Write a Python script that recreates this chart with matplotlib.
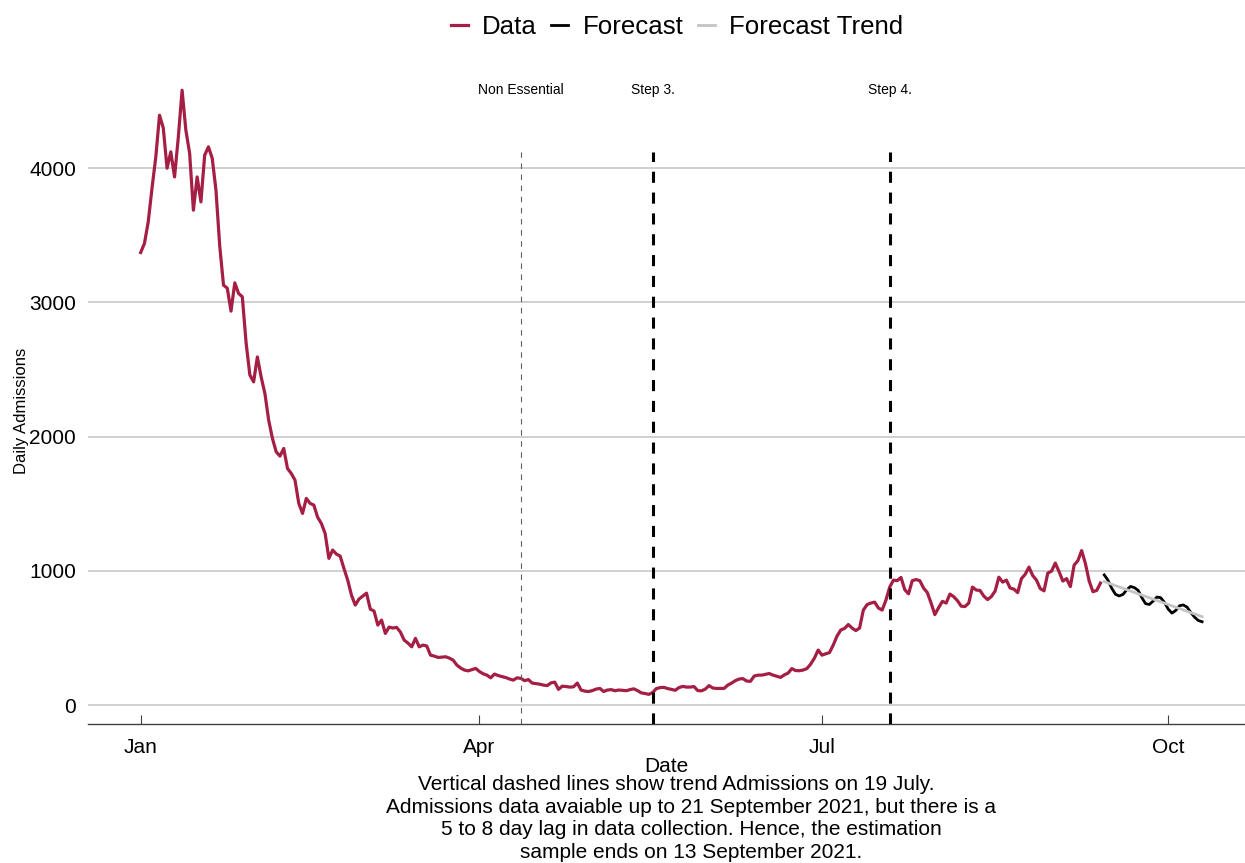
import numpy as np
import matplotlib
matplotlib.use("Agg")
import matplotlib.pyplot as plt
import matplotlib.dates as mdates

plt.rcParams["font.family"] = ["Liberation Sans", "DejaVu Sans"]
plt.rcParams["lines.scale_dashes"] = False

# daily admissions, 1 January 2021 to 13 September 2021
admissions = [
    3372, 3440, 3600, 3850, 4080, 4395, 4300, 4000, 4122, 3935,
    4233, 4581, 4283, 4112, 3687, 3935, 3749, 4097, 4159, 4075,
    3836, 3420, 3129, 3106, 2935, 3146, 3067, 3042, 2700, 2460,
    2408, 2594, 2445, 2322, 2123, 1987, 1887, 1855, 1912, 1763,
    1726, 1676, 1503, 1428, 1540, 1503, 1490, 1400, 1353, 1279,
    1093, 1155, 1125, 1110, 1018, 931, 819, 745, 790, 812,
    834, 715, 700, 596, 633, 534, 581, 574, 579, 544,
    484, 462, 434, 497, 434, 447, 440, 372, 365, 355,
    357, 360, 350, 335, 298, 276, 261, 255, 264, 273,
    250, 233, 223, 203, 231, 220, 212, 205, 194, 186,
    203, 199, 182, 190, 164, 160, 156, 149, 145, 165,
    171, 117, 141, 138, 134, 136, 164, 112, 104, 101,
    108, 119, 124, 101, 112, 115, 107, 112, 110, 107,
    115, 121, 108, 91, 86, 80, 93, 123, 130, 132,
    123, 117, 110, 130, 139, 134, 134, 138, 108, 106,
    119, 145, 127, 124, 124, 124, 149, 164, 182, 194,
    197, 179, 177, 216, 223, 223, 229, 235, 223, 215,
    206, 225, 238, 272, 257, 256, 261, 272, 305, 350,
    410, 372, 382, 391, 447, 514, 559, 571, 600, 574,
    555, 574, 708, 749, 760, 767, 723, 708, 782, 879,
    931, 927, 951, 860, 829, 927, 935, 927, 872, 838,
    760, 674, 726, 773, 760, 827, 808, 778, 737, 734,
    760, 879, 857, 854, 812, 786, 808, 849, 953, 916,
    931, 872, 864, 838, 942, 974, 1028, 965, 931, 868,
    851, 983, 998, 1058, 994, 924, 942, 883, 1043, 1076,
    1151, 1054, 924, 845, 854, 909,
]

# forecast from 14 September 2021
forecast = [
    970, 930, 870, 825, 813, 825, 860, 884, 875, 855,
    800, 755, 750, 775, 805, 800, 765, 715, 685, 705,
    740, 746, 730, 690, 655, 630, 621,
]
trend = [920, 659]

events = ["Non Essential", "Step 3.", "Step 4."]
event_dates = ["2021-04-12", "2021-05-17", "2021-07-19"]

start = np.datetime64("2021-01-01")
dates = start + np.arange(len(admissions))
fc_dates = dates[-1] + 1 + np.arange(len(forecast))
trend_dates = [fc_dates[0], fc_dates[-1]]

fig = plt.figure(figsize=(12.45, 8.63), dpi=100)
ax = fig.add_axes([88 / 1245, 1 - 724 / 863, 1 - 88 / 1245, (724 - 85) / 863])

ax.plot(dates, admissions, color="#A51E44", lw=2.3, label="Data", zorder=3)
ax.plot(fc_dates, forecast, color="black", lw=2.0, label="Forecast", zorder=3)
ax.plot(trend_dates, trend, color="#c4c4c4", lw=2.0, label="Forecast Trend", zorder=4)

# policy dates
for name, d in zip(events, event_dates):
    d = np.datetime64(d)
    if name == "Non Essential":
        ax.vlines(d, -141, 4119, colors="#606060", lw=0.8, linestyles=(0, (4, 4)), zorder=5)
    else:
        ax.vlines(d, -141, 4119, colors="black", lw=2.2, linestyles=(0, (8, 7)), zorder=5)
    ax.text(d, 4580, name, ha="center", va="center", fontsize=10)

x0 = mdates.date2num(start)
ax.set_xlim(x0 - 14, x0 + 293.4)
ax.set_ylim(-141, 4620)

ax.set_yticks([0, 1000, 2000, 3000, 4000])
ax.grid(axis="y", color="#c8c8c8", lw=1.2)
ax.set_axisbelow(True)
ax.xaxis.set_major_locator(mdates.MonthLocator(bymonth=[1, 4, 7, 10]))
ax.xaxis.set_major_formatter(mdates.DateFormatter("%b"))

for s in ["top", "right", "left"]:
    ax.spines[s].set_visible(False)
ax.spines["bottom"].set_color("#404040")
ax.spines["bottom"].set_linewidth(1.0)

ax.tick_params(axis="y", length=0, pad=8.5, labelsize=15)
ax.tick_params(axis="x", direction="in", length=6.5, width=0.8, color="#404040",
               pad=10, labelsize=15)

ax.set_xlabel("Date", fontsize=15, labelpad=0)
ax.set_ylabel("Daily Admissions", fontsize=12)
ax.yaxis.set_label_coords(-0.051, 0.49)

fig.legend(loc="center", bbox_to_anchor=(677 / 1245, 1 - 27 / 863), ncol=3,
           frameon=False, fontsize=18.6, handlelength=0.66, handletextpad=0.55,
           columnspacing=0.55)

caption = ("Vertical dashed lines show trend Admissions on 19 July.     \n"
           "Admissions data avaiable up to 21 September 2021, but there is a\n"
           "5 to 8 day lag in data collection. Hence, the estimation\n"
           "sample ends on 13 September 2021.")
fig.text(691 / 1245, 1 - 775 / 863, caption, ha="center", va="top",
         fontsize=15, linespacing=1.24, multialignment="center")

fig.savefig("out.png", dpi=100)
